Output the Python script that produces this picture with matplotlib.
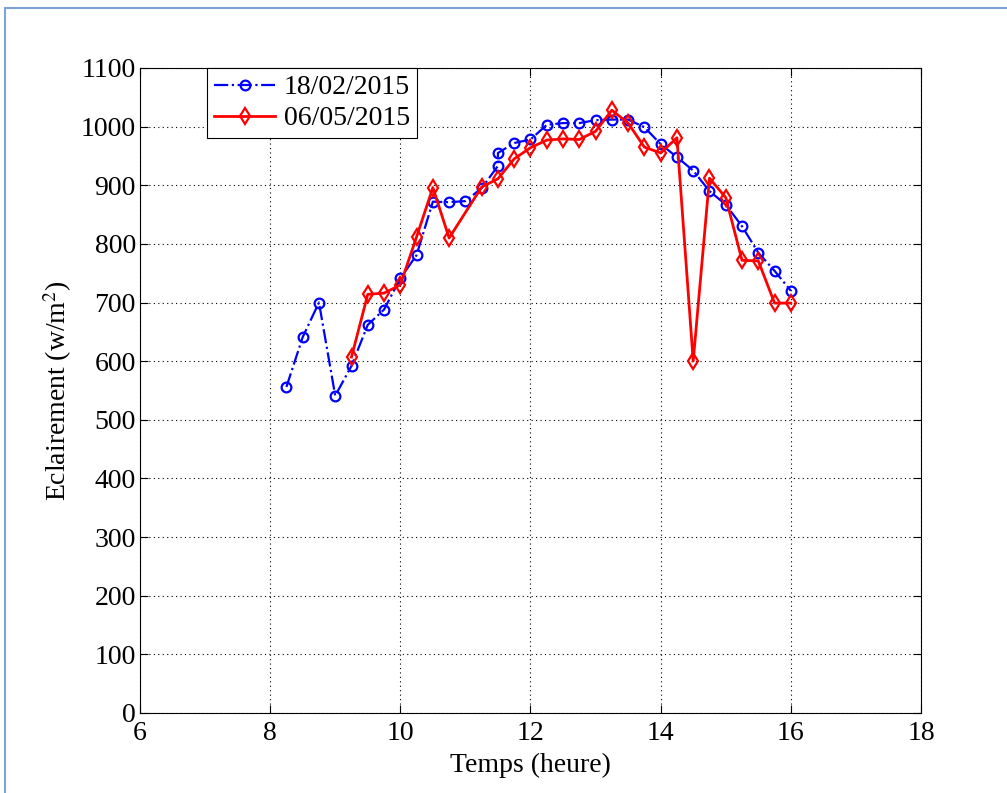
import matplotlib
matplotlib.use("Agg")
import matplotlib.pyplot as plt
from matplotlib.patches import Rectangle

# Data
t_feb = [8.25, 8.5, 8.75, 9.0, 9.25, 9.5, 9.75, 10.0, 10.25, 10.5, 10.75, 11.0, 11.25,
         11.5, 11.5, 11.75, 12.0, 12.25, 12.5, 12.75, 13.0, 13.25, 13.5, 13.75, 14.0,
         14.25, 14.5, 14.75, 15.0, 15.25, 15.5, 15.75, 16.0]
e_feb = [556, 641, 700, 541, 592, 662, 688, 741, 781, 872, 871, 873, 895,
         933, 955, 972, 978, 1003, 1006, 1006, 1011, 1012, 1012, 999, 970,
         948, 925, 890, 867, 830, 785, 754, 720]

t_may = [9.25, 9.5, 9.75, 10.0, 10.25, 10.5, 10.75, 11.25, 11.5, 11.75, 12.0, 12.25,
         12.5, 12.75, 13.0, 13.25, 13.5, 13.75, 14.0, 14.25, 14.5, 14.75, 15.0, 15.25,
         15.5, 15.75, 16.0]
e_may = [607, 714, 716, 730, 812, 896, 810, 897, 911, 945, 964, 977,
         979, 978, 992, 1028, 1006, 965, 955, 981, 600, 912, 879, 772,
         771, 699, 699]

labels = ["18/02/2015", "06/05/2015"]
xticks = [6, 8, 10, 12, 14, 16, 18]
yticks = list(range(0, 1101, 100))

plt.rcParams['font.family'] = ['Liberation Serif', 'DejaVu Serif']
plt.rcParams['mathtext.fontset'] = 'stix'

fig = plt.figure(figsize=(10.07, 7.93), dpi=100)
fig.patches.append(Rectangle((0.005, -0.2), 1.2, 1.19, transform=fig.transFigure,
                             fill=False, edgecolor='#7da2d6', linewidth=1.5))
ax = fig.add_axes([0.139, 0.1009, 0.7756, 0.8134])

ax.plot(t_feb, e_feb, linestyle='-.', color='#0000ff', linewidth=1.6,
        marker='o', markersize=7, markerfacecolor='none', markeredgewidth=1.6,
        label=labels[0])
ax.plot(t_may, e_may, linestyle='-', color='#ff0000', linewidth=2.0,
        marker='d', markersize=8, markerfacecolor='none', markeredgewidth=1.6,
        label=labels[1])

ax.set_xlim(6, 18)
ax.set_ylim(0, 1100)
ax.set_xticks(xticks)
ax.set_yticks(yticks)
ax.tick_params(direction='in', top=True, right=True, labelsize=20, length=6, width=0.8,
               pad=3)
ax.tick_params(axis='x', pad=6)
ax.grid(True, linestyle=(0, (1, 3)), color='black', linewidth=0.8)
for s in ax.spines.values():
    s.set_linewidth(0.8)

ax.set_xlabel("Temps (heure)", fontsize=20, labelpad=5)
ax.set_ylabel("Eclairement (w/m$^2$)", fontsize=20, labelpad=5)

leg = ax.legend(loc='upper left', bbox_to_anchor=(0.086, 1.0), borderaxespad=0,
                fontsize=20, fancybox=False, framealpha=1, edgecolor='black',
                handlelength=2.2, handletextpad=0.3, borderpad=0.25, labelspacing=0.2)
leg.get_frame().set_linewidth(0.8)

fig.savefig("out.png", dpi=100)
